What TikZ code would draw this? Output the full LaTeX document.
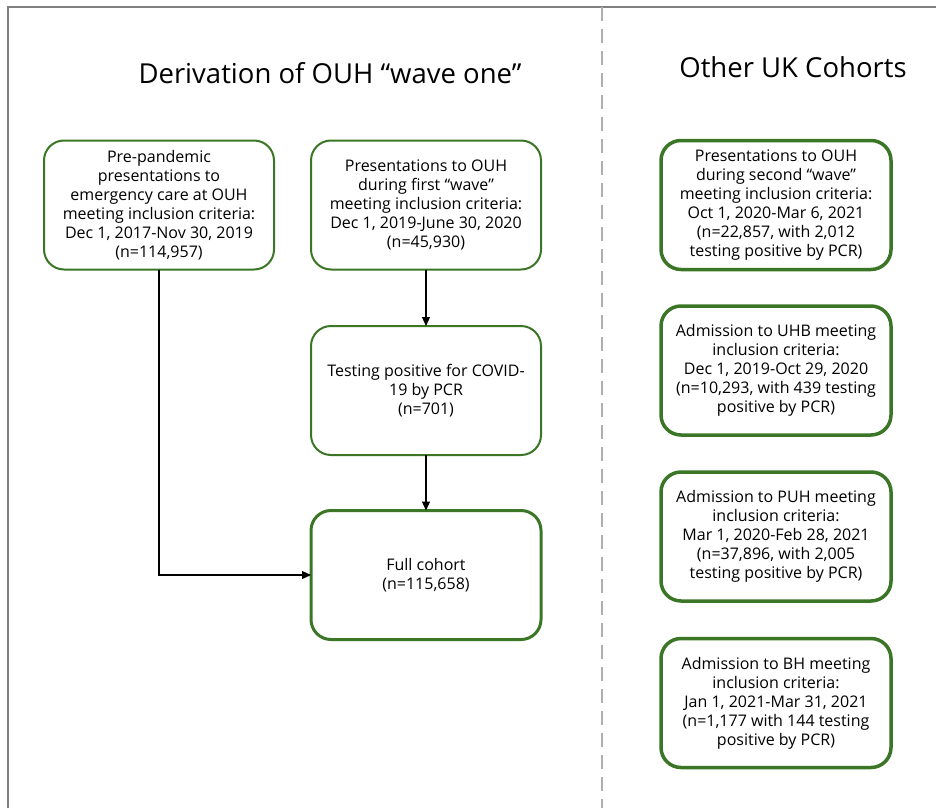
\documentclass[tikz,border=0pt]{standalone}
\usepackage{fontspec}
\setmainfont{Open Sans}
\usetikzlibrary{positioning,arrows.meta}
\definecolor{boxgreen}{RGB}{58,118,37}
\definecolor{framegray}{RGB}{128,128,128}
\definecolor{dashgray}{RGB}{175,175,175}

\begin{document}
\begin{tikzpicture}
[x=1pt,y=-1pt,
 every node/.style={align=center,font=\fontsize{16}{19}\selectfont,inner sep=0pt,outer sep=0pt},
 box/.style={draw=boxgreen,rounded corners=20pt,minimum width=230pt,minimum height=129pt,line width=2pt},
 thk/.style={box,line width=3pt},
 other/.style={box,line width=3.5pt},
 ttl/.style={font=\fontsize{27.5}{32}\selectfont},
 >={Triangle[length=9pt,width=8pt]},
 line width=1.2pt]
\useasboundingbox (0,0) rectangle (936,808);
\draw[framegray,line width=2.5pt] (8,808) -- (8,7) -- (936,7);
\draw[dashgray,line width=1.3pt,dash pattern=on 14pt off 8pt] (602,7) -- (602,808);

\node[ttl] (ttlL) at (330,73) {Derivation of OUH “wave one”};
\node[ttl] (ttlR) at (793,67) {Other UK Cohorts};

\node[box] (pre) at (159,205)
  {Pre-pandemic\\presentations to\\emergency care at OUH\\meeting inclusion criteria:\\Dec 1, 2017-Nov 30, 2019\\(n=114,957)};
\node[box] (wave1) [on grid,right=267pt of pre]
  {Presentations to OUH\\during first “wave”\\meeting inclusion criteria:\\Dec 1, 2019-June 30, 2020\\(n=45,930)};
\node[box] (pcr)   [on grid,below=185.5pt of wave1]
  {Testing positive for COVID-\\19 by PCR\\(n=701)};
\node[thk] (full)  [on grid,below=184.5pt of pcr]
  {Full cohort\\(n=115,658)};

\node[other] (wave2) [on grid,right=350pt of wave1]
  {Presentations to OUH\\during second “wave”\\meeting inclusion criteria:\\Oct 1, 2020-Mar 6, 2021\\(n=22,857, with 2,012\\testing positive by PCR)};
\node[other] (uhb) [on grid,below=165.5pt of wave2]
  {Admission to UHB meeting\\inclusion criteria:\\Dec 1, 2019-Oct 29, 2020\\(n=10,293, with 439 testing\\positive by PCR)};
\node[other] (puh) [on grid,below=166pt of uhb]
  {Admission to PUH meeting\\inclusion criteria:\\Mar 1, 2020-Feb 28, 2021\\(n=37,896, with 2,005\\testing positive by PCR)};
\node[other] (bh) [on grid,below=166.5pt of puh]
  {Admission to BH meeting\\inclusion criteria:\\Jan 1, 2021-Mar 31, 2021\\(n=1,177 with 144 testing\\positive by PCR)};

\draw[->] (wave1) -- (pcr);
\draw[->] (pcr) -- (full);
\draw[->] (pre) |- (full);
\end{tikzpicture}
\end{document}
